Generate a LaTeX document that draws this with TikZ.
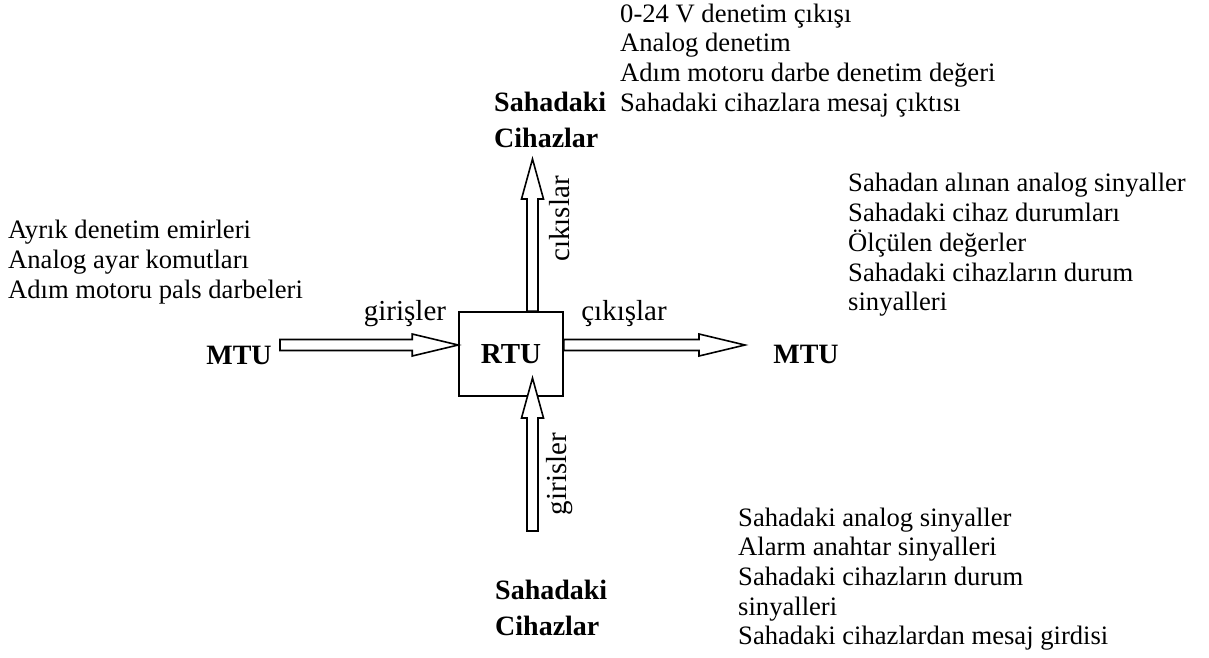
\documentclass[tikz,border=0pt]{standalone}
\usepackage{fontspec}
\setmainfont{Liberation Serif}
\usetikzlibrary{calc}
\tikzset{
  txt/.style={anchor=north west, inner sep=0pt, align=left, font=\fontsize{26.6}{29.7}\selectfont},
  boldtxt/.style={inner sep=0pt, font=\fontsize{28}{36}\selectfont\bfseries},
  lbl/.style={inner sep=0pt, font=\fontsize{29}{32}\selectfont},
  rtubox/.style={draw, line width=1.6pt, minimum width=104pt, minimum height=84pt, inner sep=0pt, font=\fontsize{29}{32}\selectfont\bfseries},
  barrow/.style={draw, fill=white, line width=1.6pt, line join=miter},
}
\newcommand\blockH[2]{\draw[barrow] ($(#1)+(0,-5.5)$) -- ($(#2)+(-46,-5.5)$) -- ($(#2)+(-46,-11)$) -- (#2) -- ($(#2)+(-46,11)$) -- ($(#2)+(-46,5.5)$) -- ($(#1)+(0,5.5)$) -- cycle;}
\newcommand\blockV[2]{\draw[barrow] ($(#1)+(-5.5,0)$) -- ($(#2)+(-5.5,40)$) -- ($(#2)+(-11,40)$) -- (#2) -- ($(#2)+(11,40)$) -- ($(#2)+(5.5,40)$) -- ($(#1)+(5.5,0)$) -- cycle;}
\begin{document}
\begin{tikzpicture}[x=1pt,y=-1pt]
\useasboundingbox (0,0) rectangle (1209,657);
\node[rtubox] (rtu) at (511,354) {RTU};
\node[boldtxt] (mtuL) at (239,355) {MTU};
\node[boldtxt] (mtuR) at (806,354) {MTU};
% arrows
\coordinate (lt) at (280,345);
\coordinate (lp) at (rtu.west |- lt);
\coordinate (rt) at (rtu.east |- lt);
\coordinate (rp) at (745,345);
\coordinate (ut) at ($(rtu.north)+(21.5,0)$);
\coordinate (up) at (ut |- 0,159);
\coordinate (bt) at (ut |- 0,531);
\coordinate (bp) at (ut |- 0,378);
\blockH{lt}{lp}
\blockH{rt}{rp}
\blockV{ut}{up}
\blockV{bt}{bp}
% labels
\node[lbl, anchor=base] (gl) at (405,320) {girişler};
\node[lbl, anchor=base] (cl) at (624,320) {çıkışlar};
\node[lbl, rotate=90] (cu) at (560,219) {cıkıslar};
\node[lbl, rotate=90] (gb) at (560,474) {girisler};
% text blocks
\node[boldtxt, anchor=north west, align=left] (ts) at (494,86) {\strut Sahadaki\\Cihazlar};
\node[txt] (tt) at (620,1.2) {\strut 0-24 V denetim çıkışı\\Analog denetim\\Adım motoru darbe denetim değeri\\Sahadaki cihazlara mesaj çıktısı};
\node[txt] (lt1) at (8,218) {\strut Ayrık denetim emirleri\\Analog ayar komutları\\Adım motoru pals darbeleri};
\node[txt] (rt1) at (848,171) {\strut Sahadan alınan analog sinyaller\\Sahadaki cihaz durumları\\Ölçülen değerler\\Sahadaki cihazların durum\\sinyalleri};
\node[txt] (bt1) at (738,505) {\strut Sahadaki analog sinyaller\\Alarm anahtar sinyalleri\\Sahadaki cihazların durum\\sinyalleri\\Sahadaki cihazlardan mesaj girdisi};
\node[boldtxt, anchor=north west, align=left] (bs) at (495,574) {\strut Sahadaki\\Cihazlar};
\end{tikzpicture}
\end{document}
